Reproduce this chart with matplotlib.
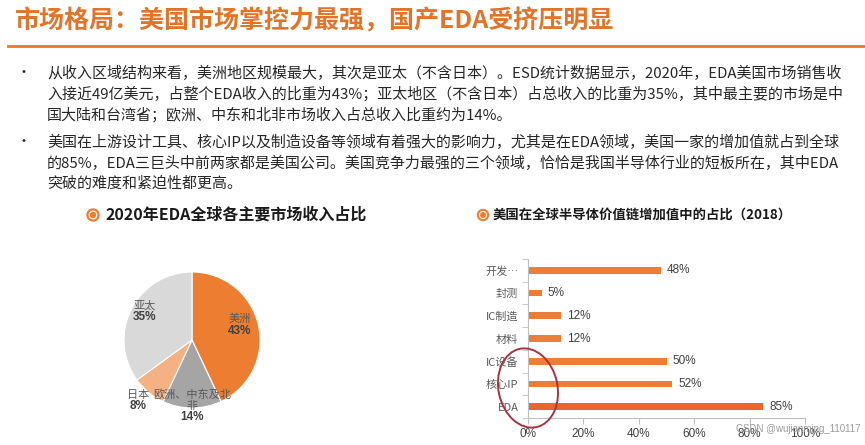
import matplotlib
matplotlib.use("Agg")
import matplotlib.pyplot as plt
from matplotlib.patches import Circle, Ellipse
import numpy as np

plt.rcParams['font.family'] = ['Noto Sans CJK SC', 'DejaVu Sans']

# ---- data ----
title = "市场格局：美国市场掌控力最强，国产EDA受挤压明显"
bullet1 = ["从收入区域结构来看，美洲地区规模最大，其次是亚太（不含日本）。ESD统计数据显示，2020年，EDA美国市场销售收",
           "入接近49亿美元，占整个EDA收入的比重为43%；亚太地区（不含日本）占总收入的比重为35%，其中最主要的市场是中",
           "国大陆和台湾省；欧洲、中东和北非市场收入占总收入比重约为14%。"]
bullet2 = ["美国在上游设计工具、核心IP以及制造设备等领域有着强大的影响力，尤其是在EDA领域，美国一家的增加值就占到全球",
           "的85%，EDA三巨头中前两家都是美国公司。美国竞争力最强的三个领域，恰恰是我国半导体行业的短板所在，其中EDA",
           "突破的难度和紧迫性都更高。"]

pie_title = "2020年EDA全球各主要市场收入占比"
pie_labels = ["美洲", "欧洲、中东及北\n非", "日本", "亚太"]
pie_values = [43, 14, 8, 35]
pie_colors = ["#ED7D31", "#A5A5A5", "#F4B183", "#D9D9D9"]

bar_title = "美国在全球半导体价值链增加值中的占比（2018）"
bar_cats = ["开发…", "封测", "IC制造", "材料", "IC设备", "核心IP", "EDA"]
bar_values = [48, 5, 12, 12, 50, 52, 85]
bar_colors = ["#EE7D35"] * 6 + ["#E9662C"]

W, H = 865, 445
fig = plt.figure(figsize=(W / 100, H / 100), dpi=100)

def px_axes(x0, y0, x1, y1):
    # axes from pixel box (top-left origin)
    return fig.add_axes([x0 / W, 1 - y1 / H, (x1 - x0) / W, (y1 - y0) / H])

# ---- pie ----
cx, cy, r = 192, 340, 68
axp = px_axes(cx - r, cy - r, cx + r, cy + r)
wedges, _ = axp.pie(pie_values, colors=pie_colors, startangle=90, counterclock=False,
                    wedgeprops=dict(edgecolor="white", linewidth=0.8))
axp.set_xlim(-1, 1)
axp.set_ylim(-1, 1)
axp.set_aspect("equal")
label_r = [0.72, 1.12, 1.24, 0.78]
for w, lab, val, lr in zip(wedges, pie_labels, pie_values, label_r):
    ang = np.deg2rad((w.theta1 + w.theta2) / 2)
    x, y = lr * np.cos(ang), lr * np.sin(ang)
    axp.text(x, y + 0.08, lab, ha="center", va="bottom", fontsize=8, color="#595959",
             linespacing=1.1, clip_on=False)
    axp.text(x, y + 0.07, f"{val}%", ha="center", va="top", fontsize=8.5, fontweight="bold",
             color="#404040", family=["Liberation Sans", "DejaVu Sans"], clip_on=False)

# ---- bars ----
axb = px_axes(528, 259, 805, 418)
ypos = np.arange(len(bar_cats))
axb.barh(ypos, bar_values, height=0.3, color=bar_colors)
axb.set_xlim(0, 100)
axb.set_ylim(len(bar_cats) - 0.5, -0.5)
axb.set_xticks(np.arange(0, 101, 20))
axb.set_xticklabels([f"{v}%" for v in range(0, 101, 20)], family=["Liberation Sans", "DejaVu Sans"],
                    fontsize=8.5, color="#404040")
axb.set_yticks(ypos)
axb.set_yticklabels(bar_cats, fontsize=8, color="#595959")
axb.set_yticks(np.arange(-0.5, len(bar_cats), 1), minor=True)
axb.tick_params(axis="y", which="major", length=0, pad=7)
axb.tick_params(axis="y", which="minor", length=4, color="#BFBFBF", direction="out")
axb.tick_params(axis="x", length=4, color="#BFBFBF", pad=3)
for s in ["top", "right"]:
    axb.spines[s].set_visible(False)
for s in ["left", "bottom"]:
    axb.spines[s].set_color("#BFBFBF")
    axb.spines[s].set_linewidth(0.8)
for y, v in zip(ypos, bar_values):
    axb.text(v + 2.2, y, f"{v}%", va="center", ha="left", fontsize=8.5, color="#404040",
             family=["Liberation Sans", "DejaVu Sans"])

# ---- overlay for page text and decorations ----
ov = fig.add_axes([0, 0, 1, 1], zorder=5)
ov.set_xlim(0, W)
ov.set_ylim(H, 0)
ov.axis("off")
ov.patch.set_alpha(0)

ov.text(15, 21, title, fontsize=18, fontweight="bold", color="#E2742A", va="center", ha="left")
ov.plot([8, 865], [46, 46], color="#E9782F", lw=2)

for ys, lines in [([73, 94, 115], bullet1), ([142, 163, 184], bullet2)]:
    ov.text(16, ys[0], "•", fontsize=10, color="#262626", va="center", ha="left")
    for y, line in zip(ys, lines):
        ov.text(47, y, line, fontsize=10.8, color="#262626", va="center", ha="left")

def icon(x, y, rr):
    ov.add_patch(Circle((x, y), rr, color="#EE7D31"))
    ov.add_patch(Circle((x, y), rr * 0.62, color="white"))
    ov.add_patch(Circle((x, y), rr * 0.42, color="#EE7D31"))

icon(93, 215, 6)
ov.text(106, 215, pie_title, fontsize=11.5, fontweight="bold", color="#1A1A1A", va="center", ha="left")
icon(483, 215, 5.5)
ov.text(493, 215, bar_title, fontsize=9.6, fontweight="bold", color="#1A1A1A", va="center", ha="left")

ov.add_patch(Ellipse((528, 388), 59, 80, angle=-12, fill=False, edgecolor="#A83240", lw=1.4))

ov.text(736, 429, "CSDN @wujianming_110117", fontsize=7, color="#9A9A9A", va="center", ha="left",
        family=["Liberation Sans", "DejaVu Sans"])

fig.savefig("out.png", dpi=100)
